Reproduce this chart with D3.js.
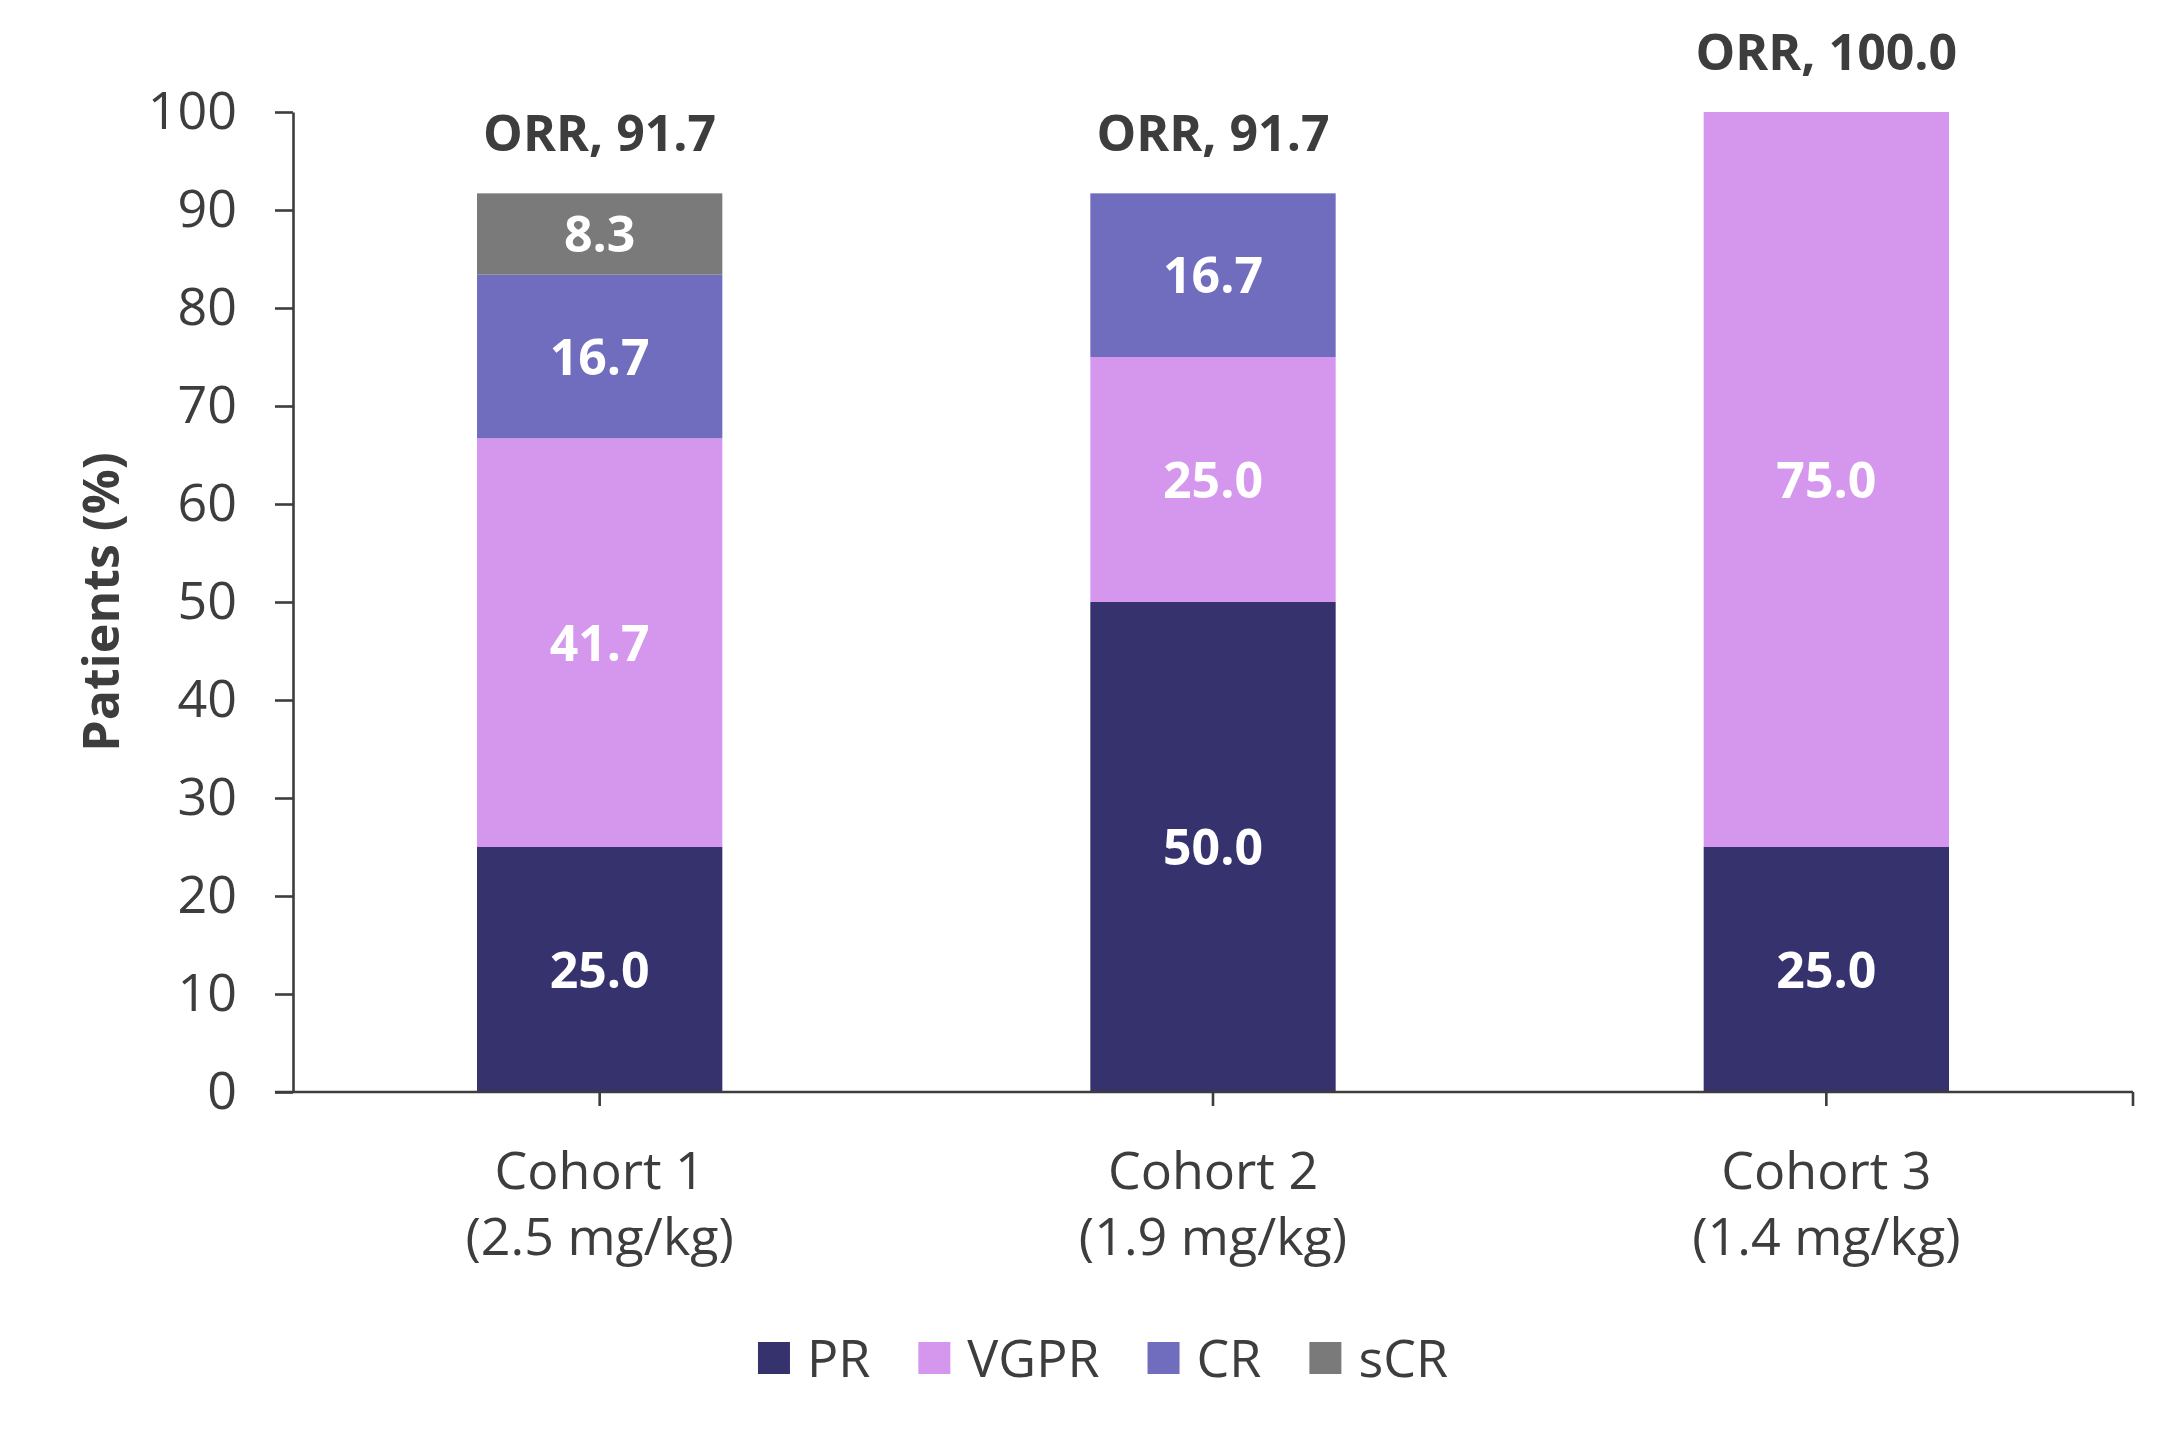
<!DOCTYPE html>
<html>
<head>
<meta charset="utf-8">
<script src="https://cdn.jsdelivr.net/npm/d3@7"></script>
<style>
  html, body { margin: 0; padding: 0; background: #fff; }
  svg { display: block; font-family: "Open Sans", "Noto Sans", sans-serif; }
</style>
</head>
<body>
<div id="chart"></div>
<script>
// data
const cohorts = ["Cohort 1", "Cohort 2", "Cohort 3"];
const doses = ["(2.5 mg/kg)", "(1.9 mg/kg)", "(1.4 mg/kg)"];
const responses = ["PR", "VGPR", "CR", "sCR"];
const prValues = [25.0, 50.0, 25.0];
const vgprValues = [41.7, 25.0, 75.0];
const crValues = [16.7, 16.7, 0];
const scrValues = [8.3, 0, 0];
const orrValues = [91.7, 91.7, 100.0];
const yTicks = [0, 10, 20, 30, 40, 50, 60, 70, 80, 90, 100];

const colors = ["#35326d", "#d597ee", "#716dbe", "#7a7a7a"];
const textColor = "#3d3d3d";

const width = 2183;
const height = 1439;
const marginTop = 112;
const marginRight = 50;
const marginBottom = 347;
const marginLeft = 293;

const table = cohorts.map((c, i) => ({
  cohort: c, dose: doses[i], orr: orrValues[i],
  PR: prValues[i], VGPR: vgprValues[i], CR: crValues[i], sCR: scrValues[i]
}));

const series = d3.stack().keys(responses)(table);

const x = d3.scaleBand()
    .domain(cohorts)
    .range([marginLeft, width - marginRight])
    .paddingInner(0.6)
    .paddingOuter(0.3);

const y = d3.scaleLinear()
    .domain([0, 100])
    .range([height - marginBottom, marginTop]);

const color = d3.scaleOrdinal().domain(responses).range(colors);

const svg = d3.select("#chart").append("svg")
    .attr("width", width)
    .attr("height", height)
    .attr("viewBox", [0, 0, width, height]);

// stacked bars
const layer = svg.append("g")
  .selectAll("g")
  .data(series)
  .join("g")
    .attr("fill", d => color(d.key));

layer.selectAll("rect")
  .data(d => d)
  .join("rect")
    .attr("x", d => x(d.data.cohort))
    .attr("y", d => y(d[1]))
    .attr("width", x.bandwidth())
    .attr("height", d => y(d[0]) - y(d[1]));

// segment labels
layer.selectAll("text")
  .data(d => d.filter(v => v[1] - v[0] > 0))
  .join("text")
    .attr("x", d => x(d.data.cohort) + x.bandwidth() / 2)
    .attr("y", d => (y(d[0]) + y(d[1])) / 2)
    .attr("dy", "0.36em")
    .attr("text-anchor", "middle")
    .attr("fill", "#fff")
    .attr("font-weight", 700)
    .attr("font-size", 50)
    .text(d => (d[1] - d[0]).toFixed(1));

// ORR labels above each bar
svg.append("g")
  .selectAll("text")
  .data(table)
  .join("text")
    .attr("x", d => x(d.cohort) + x.bandwidth() / 2)
    .attr("y", d => y(d.orr) - 42)
    .attr("text-anchor", "middle")
    .attr("fill", textColor)
    .attr("font-weight", 700)
    .attr("font-size", 50)
    .text(d => `ORR, ${d.orr.toFixed(1)}`);

// y axis
svg.append("g")
    .attr("transform", `translate(${marginLeft},0)`)
    .call(d3.axisLeft(y).tickValues(yTicks).tickSize(18).tickSizeOuter(0).tickPadding(38))
    .call(g => g.selectAll("path, line").attr("stroke", textColor).attr("stroke-width", 2.6))
    .call(g => g.selectAll("text")
        .attr("fill", textColor)
        .attr("font-size", 52)
        .attr("font-family", "Open Sans, Noto Sans, sans-serif"));

// x axis
const xAxis = svg.append("g")
    .attr("transform", `translate(0,${height - marginBottom})`);

xAxis.append("line")
    .attr("x1", marginLeft - 18)
    .attr("x2", width - marginRight)
    .attr("stroke", textColor)
    .attr("stroke-width", 2.6);

xAxis.append("line")
    .attr("x1", width - marginRight)
    .attr("x2", width - marginRight)
    .attr("y2", 14)
    .attr("stroke", textColor)
    .attr("stroke-width", 2.6);

const xTick = xAxis.selectAll("g")
  .data(table)
  .join("g")
    .attr("transform", d => `translate(${x(d.cohort) + x.bandwidth() / 2},0)`);

xTick.append("line")
    .attr("y2", 14)
    .attr("stroke", textColor)
    .attr("stroke-width", 2.6);

xTick.append("text")
    .attr("y", 97)
    .attr("text-anchor", "middle")
    .attr("fill", textColor)
    .attr("font-size", 52)
    .text(d => d.cohort);

xTick.append("text")
    .attr("y", 163)
    .attr("text-anchor", "middle")
    .attr("fill", textColor)
    .attr("font-size", 52)
    .text(d => d.dose);

// y axis title
svg.append("text")
    .attr("transform", `translate(101,${(y(0) + y(100)) / 2}) rotate(-90)`)
    .attr("dy", "0.36em")
    .attr("text-anchor", "middle")
    .attr("fill", textColor)
    .attr("font-weight", 700)
    .attr("font-size", 50)
    .text("Patients (%)");

// legend, centred under the chart
const legend = svg.append("g")
    .attr("transform", `translate(0,1358)`);

const item = legend.selectAll("g")
  .data(responses)
  .join("g");

item.append("rect")
    .attr("y", -16)
    .attr("width", 32)
    .attr("height", 32)
    .attr("fill", d => color(d));

item.append("text")
    .attr("x", 49)
    .attr("dy", "0.36em")
    .attr("fill", textColor)
    .attr("font-size", 52)
    .text(d => d);

let pos = 0;
const offsets = [];
item.each(function() {
  offsets.push(pos);
  const w = 49 + this.querySelector("text").getComputedTextLength();
  pos += w + 48;
});
const total = pos - 48;
const start = 1103 - total / 2;
item.attr("transform", (d, i) => `translate(${start + offsets[i]},0)`);
</script>
</body>
</html>
